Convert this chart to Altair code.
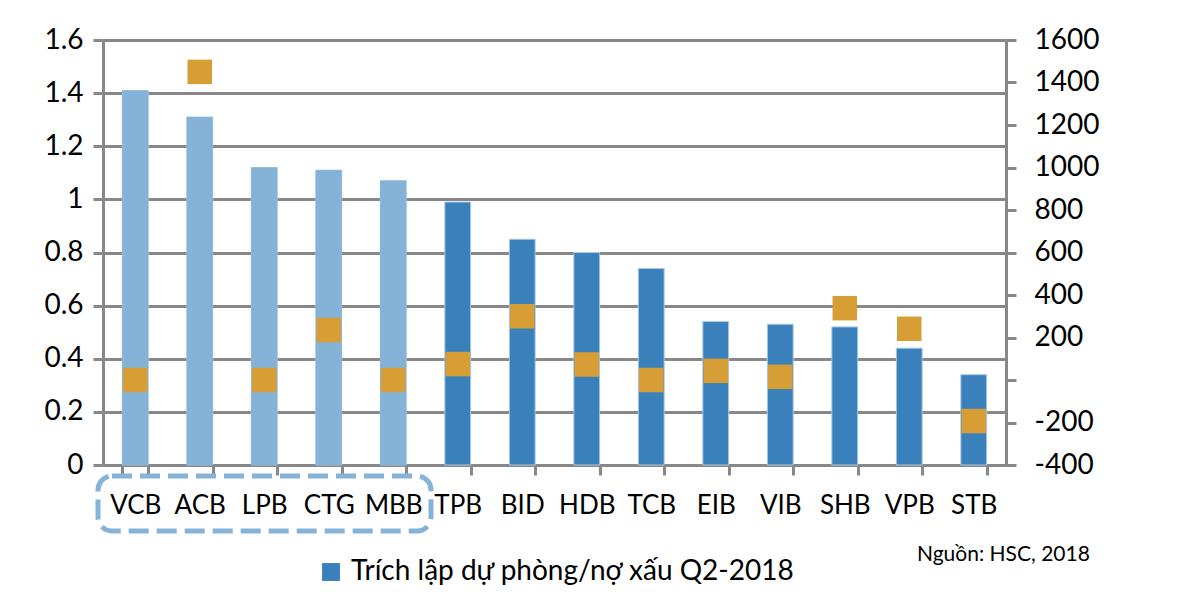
import altair as alt
import pandas as pd

banks = ["VCB", "ACB", "LPB", "CTG", "MBB", "TPB", "BID", "HDB", "TCB", "EIB", "VIB", "SHB", "VPB", "STB"]
ratio = [1.41, 1.31, 1.12, 1.11, 1.07, 0.99, 0.85, 0.80, 0.74, 0.54, 0.53, 0.52, 0.44, 0.34]
second = [0, 1450, 0, 235, 0, 75, 300, 73, 0, 43, 15, 338, 241, -193]
highlighted = ["VCB", "ACB", "LPB", "CTG", "MBB"]
legend_label = "Trích lập dự phòng/nợ xấu Q2-2018"
left_ticks = [0, 0.2, 0.4, 0.6, 0.8, 1.0, 1.2, 1.4, 1.6]
right_ticks = [-400, -200, 0, 200, 400, 600, 800, 1000, 1200, 1400, 1600]

df = pd.DataFrame({"bank": banks, "ratio": ratio, "second": second})
df["series"] = legend_label
df["hl"] = df["bank"].isin(highlighted)

FONT = "Lato"
GRAY = "#888888"

xenc = alt.X("bank:N", sort=banks, title=None,
             scale=alt.Scale(paddingInner=0.6, paddingOuter=0.3),
             axis=alt.Axis(labelAngle=0, labelFont=FONT, labelFontSize=26, labelColor="#000000",
                           domainColor=GRAY, domainWidth=3, tickColor=GRAY, tickWidth=3,
                           tickSize=10, tickBand="extent", labelPadding=17, grid=False))

yleft = alt.Y("ratio:Q", title=None,
              scale=alt.Scale(domain=[0, 1.6], nice=False, zero=True),
              axis=alt.Axis(values=left_ticks, labelFont=FONT, labelFontSize=28, labelColor="#000000",
                            domainColor=GRAY, domainWidth=3, tickColor=GRAY, tickWidth=3, tickSize=10,
                            labelPadding=10, grid=True, gridColor=GRAY, gridWidth=3,
                            labelExpr="datum.value == 1 ? '1' : datum.value == 0 ? '0' : format(datum.value, '.1f')"))

bars_all = alt.Chart(df).mark_bar(stroke="#a9c9e6", strokeWidth=1).encode(
    x=xenc,
    y=yleft,
    color=alt.Color("series:N", title=None,
                    scale=alt.Scale(domain=[legend_label], range=["#3A80BA"]),
                    legend=alt.Legend(orient="none", legendX=214, legendY=518, symbolType="square",
                                      symbolSize=320, symbolStrokeWidth=0, labelFont=FONT,
                                      labelFontSize=28, labelColor="#000000", labelLimit=800,
                                      symbolOffset=0, padding=0, labelOffset=6)),
)

bars_hl = alt.Chart(df).transform_filter(alt.datum.hl).mark_bar(color="#85B3D8").encode(
    x=alt.X("bank:N", sort=banks),
    y=alt.Y("ratio:Q"),
)

left_layer = alt.layer(bars_all, bars_hl)

squares = alt.Chart(df).mark_square(color="#D89E36", size=600, opacity=1).encode(
    x=alt.X("bank:N", sort=banks),
    y=alt.Y("second:Q", title=None,
            scale=alt.Scale(domain=[-400, 1600], nice=False, zero=False),
            axis=alt.Axis(orient="right", values=right_ticks, labelFont=FONT, labelFontSize=28,
                          labelColor="#000000", domainColor=GRAY, domainWidth=3, tickColor=GRAY,
                          tickWidth=3, tickSize=10, labelPadding=18, grid=False,
                          labelExpr="datum.value == 0 ? '' : datum.value")),
)

box_df = pd.DataFrame({"k": [0]})
box = alt.Chart(box_df).mark_rect(fill=None, fillOpacity=0, stroke="#85B3D8", strokeWidth=5,
                                  strokeDash=[20, 8], cornerRadius=14).encode(
    x=alt.value(-5), x2=alt.value(328), y=alt.value(436), y2=alt.value(491))

source = alt.Chart(box_df).mark_text(text="Nguồn: HSC, 2018", font=FONT, fontSize=21, align="left",
                                     baseline="middle", color="#000000").encode(
    x=alt.value(814), y=alt.value(515))

chart = alt.layer(left_layer, squares, box, source).resolve_scale(
    y="independent", color="independent"
).properties(
    width=903, height=425,
    autosize=alt.AutoSizeParams(type="none"),
    padding={"left": 103, "top": 40, "right": 175, "bottom": 137},
).configure_view(stroke=None).configure(background="#ffffff")

chart.save("out.html", embed_options={"renderer": "svg", "actions": False})
